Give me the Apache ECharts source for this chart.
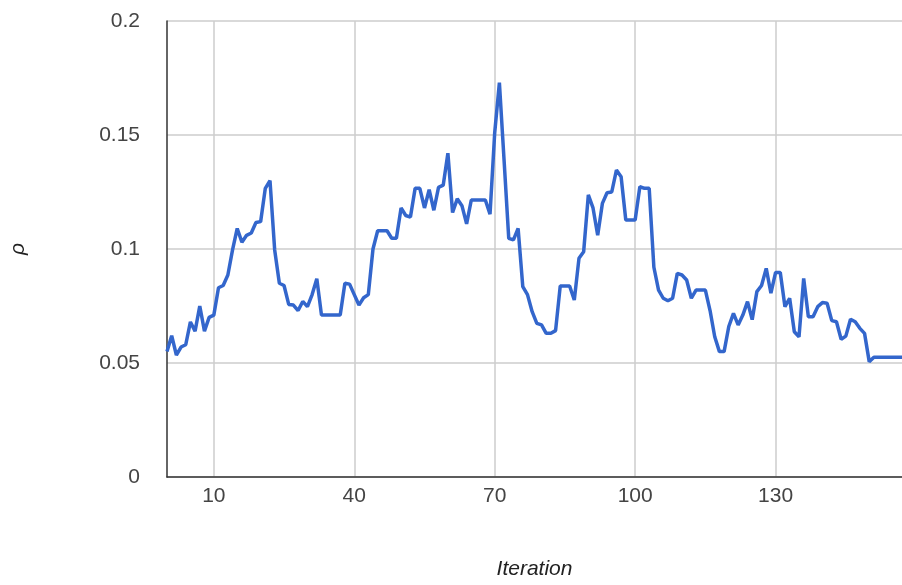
<!DOCTYPE html>
<html>
<head>
<meta charset="utf-8">
<script src="https://cdn.jsdelivr.net/npm/echarts@6/dist/echarts.min.js"></script>
<style>
html,body{margin:0;padding:0;background:#fff;}
#chart{width:902px;height:585px;}
</style>
</head>
<body>
<div id="chart"></div>
<script>
const iterations = [0,1,2,3,4,5,6,7,8,9,10,11,12,13,14,15,16,17,18,19,20,21,22,23,24,25,26,27,28,29,30,31,32,33,34,35,36,37,38,39,40,41,42,43,44,45,46,47,48,49,50,51,52,53,54,55,56,57,58,59,60,61,62,63,64,65,66,67,68,69,70,71,72,73,74,75,76,77,78,79,80,81,82,83,84,85,86,87,88,89,90,91,92,93,94,95,96,97,98,99,100,101,102,103,104,105,106,107,108,109,110,111,112,113,114,115,116,117,118,119,120,121,122,123,124,125,126,127,128,129,130,131,132,133,134,135,136,137,138,139,140,141,142,143,144,145,146,147,148,149,150,151,152,153,154,155,156,157];

const rho = [
0.055,0.062,0.0535,0.057,0.058,0.068,0.064,0.075,0.064,0.070,
0.071,0.083,0.084,0.0886,0.0996,0.109,0.103,0.106,0.107,0.1116,
0.112,0.1266,0.130,0.0996,0.085,0.084,0.0757,0.0754,0.073,0.077,
0.0747,0.080,0.087,0.071,0.071,0.071,0.071,0.071,0.085,0.0846,
0.080,0.0754,0.0786,0.080,0.100,0.108,0.108,0.108,0.1047,0.1047,
0.118,0.1147,0.114,0.1266,0.1266,0.118,0.126,0.117,0.127,0.128,
0.142,0.116,0.122,0.119,0.111,0.1215,0.1215,0.1215,0.1215,0.1153,
0.151,0.173,0.139,0.1047,0.104,0.109,0.0835,0.080,0.0725,0.0674,
0.0667,0.063,0.063,0.0642,0.0838,0.0838,0.0838,0.0776,0.0959,0.0988,
0.1237,0.118,0.106,0.120,0.1247,0.125,0.1346,0.1317,0.1127,0.1127,
0.1127,0.1273,0.1266,0.1266,0.092,0.082,0.0784,0.0773,0.0784,0.0893,
0.0886,0.0864,0.0784,0.082,0.082,0.082,0.073,0.0615,0.055,0.055,
0.066,0.0718,0.0667,0.071,0.0769,0.069,0.0813,0.084,0.0915,0.0806,
0.0897,0.0897,0.0747,0.0784,0.0637,0.0615,0.0871,0.0703,0.0703,0.0747,
0.0765,0.0762,0.0686,0.0681,0.0604,0.0618,0.0692,0.0681,0.0652,0.063,
0.0506,0.0525,0.0525,0.0525,0.0525,0.0525,0.0525,0.0525
];

const xTickLabels = [10, 40, 70, 100, 130];
const yTicks = [0, 0.05, 0.1, 0.15, 0.2];

const FONT = '"Liberation Sans", Arial, sans-serif';
const showTick = (idx, val) => xTickLabels.indexOf(Number(val)) >= 0;

const chart = echarts.init(document.getElementById('chart'), null, {renderer: 'canvas'});
chart.setOption({
  animation: false,
  backgroundColor: '#ffffff',
  grid: {left: 167, right: -2, top: 21, bottom: 108, containLabel: false},
  xAxis: {
    type: 'category',
    data: iterations,
    boundaryGap: false,
    name: 'Iteration',
    nameLocation: 'middle',
    nameGap: 82,
    nameTextStyle: {color: '#222', fontStyle: 'italic', fontSize: 21, fontFamily: FONT},
    axisLine: {show: true, lineStyle: {color: '#333', width: 1.5}},
    axisTick: {show: false},
    axisLabel: {interval: showTick, color: '#444', fontSize: 21, fontFamily: FONT, margin: 9},
    splitLine: {show: true, interval: showTick, lineStyle: {color: '#cccccc', width: 1.5}}
  },
  yAxis: {
    type: 'value',
    min: yTicks[0],
    max: yTicks[yTicks.length - 1],
    interval: 0.05,
    name: 'ρ',
    nameLocation: 'middle',
    nameGap: 138,
    nameRotate: 90,
    nameTextStyle: {color: '#222', fontStyle: 'italic', fontSize: 21, fontFamily: FONT},
    axisLine: {show: true, lineStyle: {color: '#333', width: 1.5}},
    axisTick: {show: false},
    axisLabel: {color: '#444', fontSize: 21, fontFamily: FONT, margin: 27},
    splitLine: {show: true, lineStyle: {color: '#cccccc', width: 1.5}}
  },
  series: [{
    type: 'line',
    data: rho,
    showSymbol: false,
    symbol: 'none',
    lineStyle: {color: '#3366cc', width: 3.5},
    itemStyle: {color: '#3366cc'}
  }]
});
</script>
</body>
</html>
